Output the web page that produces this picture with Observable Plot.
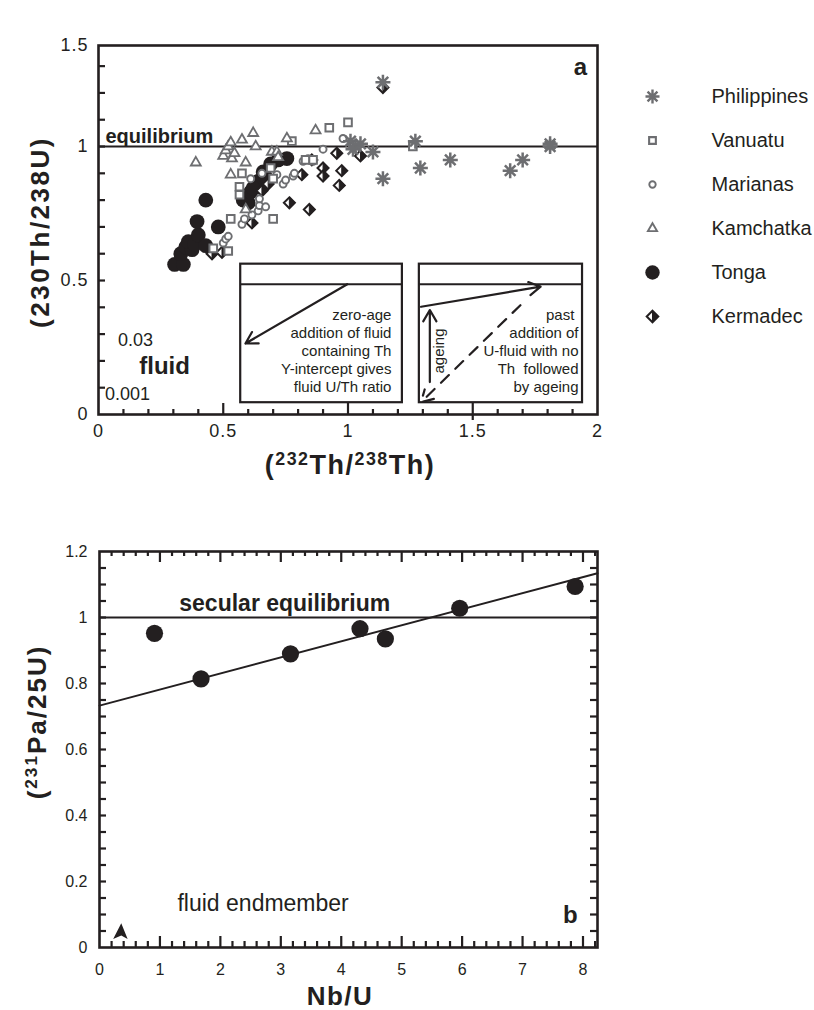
<!DOCTYPE html>
<html>
<head>
<meta charset="utf-8">
<script src="https://cdn.jsdelivr.net/npm/d3@7"></script>
<script src="https://cdn.jsdelivr.net/npm/@observablehq/plot@0.6"></script>
<style>
  html, body { margin: 0; padding: 0; background: #fff; }
  #wrap { position: relative; width: 814px; height: 1010px; overflow: hidden;
          font-family: "Liberation Sans", Arial, Helvetica, sans-serif; color: #231f20; }
  #wrap > svg { position: absolute; overflow: visible; }
  .title { position: absolute; font-weight: bold; white-space: nowrap; line-height: 1; }
  .title sup { font-size: 0.66em; vertical-align: 0.5em; line-height: 0; }
  .rot { transform: translate(-50%, -50%) rotate(-90deg); }
  .ctr { transform: translate(-50%, -50%); }
  #pa g[aria-label="x-axis tick label"] text,
  #pa g[aria-label="y-axis tick label"] text { letter-spacing: 1px; }
</style>
</head>
<body>
<div id="wrap"></div>
<script>
// ---------- Panel a data: (232Th/238Th) vs (230Th/238U) ----------
const philippines = [[1.01,1.02],[1.03,1.00],[1.02,0.99],[1.05,1.01],[1.10,0.98],[1.14,0.88],[1.14,1.24],
  [1.27,1.02],[1.29,0.92],[1.41,0.95],[1.65,0.91],[1.70,0.95],[1.81,1.00],[1.81,1.01]];
const vanuatu = [[0.46,0.62],[0.52,0.61],[0.53,0.73],[0.565,0.82],[0.565,0.85],[0.575,0.90],[0.69,0.92],
  [0.70,0.88],[0.70,0.73],[0.775,1.02],[0.83,0.95],[0.86,0.95],[0.925,1.07],[1.00,1.09],[1.26,1.00]];
const marianas = [[0.50,0.64],[0.51,0.655],[0.52,0.665],[0.575,0.71],[0.585,0.73],[0.615,0.745],[0.64,0.76],
  [0.645,0.78],[0.67,0.775],[0.645,0.805],[0.61,0.88],[0.655,0.90],[0.715,0.895],[0.74,0.86],[0.75,0.875],
  [0.78,0.89],[0.785,0.90],[0.82,0.945],[0.84,0.955],[0.86,0.945],[0.90,0.99],[0.98,1.03]];
const kamchatka = [[0.39,0.94],[0.50,0.965],[0.51,0.985],[0.52,1.00],[0.535,0.955],[0.545,0.975],[0.53,1.015],
  [0.53,0.895],[0.575,1.025],[0.59,0.94],[0.62,1.05],[0.63,1.00],[0.59,0.765],[0.695,0.98],[0.715,0.98],
  [0.72,0.96],[0.755,1.03],[0.87,1.06]];
const tonga = [[0.305,0.56],[0.34,0.56],[0.33,0.60],[0.35,0.625],[0.375,0.615],[0.36,0.645],[0.385,0.635],
  [0.40,0.67],[0.395,0.72],[0.43,0.63],[0.43,0.80],[0.48,0.70],[0.58,0.80],[0.60,0.79],[0.61,0.83],
  [0.64,0.87],[0.66,0.905],[0.69,0.935],[0.72,0.95],[0.755,0.955],[0.67,0.885],[0.62,0.845]];
const kermadec = [[0.455,0.60],[0.495,0.605],[0.615,0.715],[0.655,0.835],[0.68,0.86],[0.765,0.79],
  [0.845,0.765],[0.815,0.895],[0.855,0.95],[0.90,0.92],[0.90,0.89],[0.955,0.975],[0.975,0.91],
  [0.965,0.855],[1.05,0.965],[1.14,1.22]];
const seriesNames = ["Philippines", "Vanuatu", "Marianas", "Kamchatka", "Tonga", "Kermadec"];

const xTicksA = [0, 0.5, 1, 1.5, 2];
const xTickLabelsA = ["0", "0.5", "1", "1.5", "2"];
const yTicksA = [0, 0.5, 1, 1.377];
const yTickLabelsA = ["0", "0.5", "1", "1.5"];

// inset sketches (data coordinates of panel a)
const insetBoxes = [
  {x1: 0.57, x2: 1.218, y1: 0.044, y2: 0.561, line: 0.486},
  {x1: 1.286, x2: 1.94, y1: 0.044, y2: 0.561, line: 0.486}
];
const insetArrows = [
  {x1: 0.997, y1: 0.486, x2: 0.589, y2: 0.265},
  {x1: 1.293, y1: 0.402, x2: 1.772, y2: 0.477},
  {x1: 1.328, y1: 0.121, x2: 1.328, y2: 0.39}
];
const insetDashed = [{x1: 1.691, y1: 0.408, x2: 1.293, y2: 0.046}];
const insetNotes = [
  {x: 1.174, y: 0.239, text: "zero-age\naddition of fluid\ncontaining Th\nY-intercept gives\nfluid U/Th ratio"},
  {x: 1.924, y: 0.239, text: "past\u00a0\naddition of\nU-fluid with no\nTh\u00a0 followed\nby ageing"}
];
const fluidNotes = [
  {x: 0.148, y: 0.277, text: "0.03", bold: false},
  {x: 0.265, y: 0.18, text: "fluid", bold: true},
  {x: 0.116, y: 0.075, text: "0.001", bold: false}
];

// ---------- Panel b data: Nb/U vs (231Pa/235U) ----------
const nbU = [0.91, 1.68, 3.16, 4.31, 4.73, 5.96, 7.87];
const paU = [0.952, 0.814, 0.890, 0.966, 0.935, 1.028, 1.094];
const fitNbU = [0, 8.24];
const fitPaU = [0.733, 1.134];
const endmember = [{x: 0.36, y: 0.048}];
const xTicksB = [0, 1, 2, 3, 4, 5, 6, 7, 8];
const yTicksB = [0, 0.2, 0.4, 0.6, 0.8, 1, 1.2];
const yTickLabelsB = ["0", "0.2", "0.4", "0.6", "0.8", "1", "1.2"];

// ---------- styles ----------
const INK = "#231f20", GRAY = "#6d6e71";
const FONT = "'Liberation Sans', Arial, Helvetica, sans-serif";

// custom symbols
const asterisk = {draw(c, size) { const r = Math.sqrt(size / Math.PI), d = r * Math.SQRT1_2;
  c.moveTo(0, -r); c.lineTo(0, r); c.moveTo(-r, 0); c.lineTo(r, 0);
  c.moveTo(-d, -d); c.lineTo(d, d); c.moveTo(-d, d); c.lineTo(d, -d); }};
const diamond = {draw(c, size) { const r = Math.sqrt(size / Math.PI);
  c.moveTo(0, -r); c.lineTo(r, 0); c.lineTo(0, r); c.lineTo(-r, 0); c.closePath(); }};
const halfDiamond = {draw(c, size) { const r = Math.sqrt(size / Math.PI);
  c.moveTo(0, -r); c.lineTo(r, 0); c.lineTo(0, r); c.closePath(); }};
const arrowHead = {draw(c, size) { const r = Math.sqrt(size / Math.PI);
  c.moveTo(0, -r); c.lineTo(0.75 * r, 0.85 * r); c.lineTo(0, 0.45 * r); c.lineTo(-0.95 * r, 0.85 * r); c.closePath(); }};

const px = d => d[0], py = d => d[1];
const SM = {
  Tonga: d => [Plot.dot(d, {x: px, y: py, r: 7.4, fill: INK, stroke: "none"})],
  Kermadec: d => [
    Plot.dot(d, {x: px, y: py, symbol: diamond, r: 5.5, fill: "white", stroke: INK, strokeWidth: 2}),
    Plot.dot(d, {x: px, y: py, symbol: halfDiamond, r: 5.5, fill: INK, stroke: INK, strokeWidth: 1})],
  Marianas: d => [Plot.dot(d, {x: px, y: py, r: 3.5, fill: "white", stroke: GRAY, strokeWidth: 1.9})],
  Vanuatu: d => [Plot.dot(d, {x: px, y: py, symbol: "square", r: 4.3, fill: "white", stroke: GRAY, strokeWidth: 2})],
  Kamchatka: d => [Plot.dot(d, {x: px, y: py, symbol: "triangle", r: 3.7, fill: "white", stroke: GRAY, strokeWidth: 1.8})],
  Philippines: d => [Plot.dot(d, {x: px, y: py, symbol: asterisk, r: 7.5, fill: "none", stroke: GRAY, strokeWidth: 2.5})]
};

// inward ticks: rules whose lengths are converted from pixels to data units
const TICK = {stroke: INK, strokeWidth: 2.2};
function tickMarks(xDom, yDom, fw, fh) {
  const kx = (xDom[1] - xDom[0]) / fw, ky = (yDom[1] - yDom[0]) / fh;
  return {
    bottom: (v, len) => Plot.ruleX(v, {x: d => d, y1: yDom[0], y2: yDom[0] + len * ky, ...TICK}),
    top: (v, len) => Plot.ruleX(v, {x: d => d, y1: yDom[1] - len * ky, y2: yDom[1], ...TICK}),
    left: (v, len) => Plot.ruleY(v, {y: d => d, x1: xDom[0], x2: xDom[0] + len * kx, ...TICK}),
    right: (v, len) => Plot.ruleY(v, {y: d => d, x1: xDom[1] - len * kx, x2: xDom[1], ...TICK}),
    below: (v, len) => Plot.ruleX(v, {x: d => d, y1: yDom[0] - len * ky, y2: yDom[0], ...TICK})
  };
}

// ---------- Panel a ----------
const WA = 620, HA = 480, mLA = 98, mRA = 23, mTA = 45, mBA = 66;
const xDomA = [0, 2], yDomA = [0, 1.377];
const TA = tickMarks(xDomA, yDomA, WA - mLA - mRA, HA - mTA - mBA);
const xMinorA = d3.range(1, 20).filter(i => i % 5 !== 0).map(i => i / 10);
const xMajorA = [0.5, 1, 1.5];
const yMinorA = d3.range(1, 14).map(i => i / 10);

const plotA = Plot.plot({
  width: WA, height: HA, marginLeft: mLA, marginRight: mRA, marginTop: mTA, marginBottom: mBA,
  x: {domain: xDomA},
  y: {domain: yDomA},
  style: {fontFamily: FONT, color: INK, background: "transparent", overflow: "visible"},
  marks: [
    Plot.ruleY([1], {stroke: INK, strokeWidth: 2}),
    Plot.rect(insetBoxes, {x1: "x1", x2: "x2", y1: "y1", y2: "y2", fill: "white", stroke: INK, strokeWidth: 2.2}),
    Plot.ruleY(insetBoxes, {y: "line", x1: "x1", x2: "x2", stroke: INK, strokeWidth: 2.2}),
    Plot.arrow(insetArrows, {x1: "x1", y1: "y1", x2: "x2", y2: "y2", stroke: INK, strokeWidth: 2.2, headLength: 9}),
    Plot.arrow(insetDashed, {x1: "x1", y1: "y1", x2: "x2", y2: "y2", stroke: INK, strokeWidth: 2.2, headLength: 9, strokeDasharray: "11,9"}),
    Plot.text(insetNotes, {x: "x", y: "y", text: "text", textAnchor: "end", lineAnchor: "middle", lineHeight: 1.2, fontSize: 15, fill: INK}),
    Plot.text(["ageing"], {x: 1.367, y: 0.237, text: d => d, rotate: -90, fontSize: 15, fill: INK}),
    ...SM.Tonga(tonga),
    ...SM.Kermadec(kermadec),
    ...SM.Marianas(marianas),
    ...SM.Vanuatu(vanuatu),
    ...SM.Kamchatka(kamchatka),
    ...SM.Philippines(philippines),
    Plot.text(["equilibrium"], {x: 0.028, y: 1.015, text: d => d, textAnchor: "start", lineAnchor: "bottom", fontSize: 20, fontWeight: "bold", fill: INK}),
    Plot.text(fluidNotes.filter(d => !d.bold), {x: "x", y: "y", text: "text", fontSize: 18, fill: INK}),
    Plot.text(fluidNotes.filter(d => d.bold), {x: "x", y: "y", text: "text", fontSize: 24, fontWeight: "bold", fill: INK}),
    Plot.text(["a"], {x: 1.932, y: 1.296, text: d => d, fontSize: 24, fontWeight: "bold", fill: INK}),
    TA.bottom(xMinorA, 5),
    TA.bottom(xMajorA, 11),
    TA.below([1.5], 6),
    TA.left(yMinorA, 7),
    Plot.frame({stroke: INK, strokeWidth: 2.6}),
    Plot.axisX({ticks: xTicksA, tickSize: 0, tickPadding: 10, fontSize: 18, label: null,
      tickFormat: d => xTickLabelsA[xTicksA.indexOf(d)]}),
    Plot.axisY({ticks: yTicksA, tickSize: 0, tickPadding: 10, fontSize: 18, label: null,
      tickFormat: d => yTickLabelsA[yTicksA.indexOf(d)]})
  ]
});

// ---------- Legend ----------
const legendSym = {
  Philippines: {symbol: asterisk, r: 7, fill: "none", stroke: GRAY, strokeWidth: 2.4},
  Vanuatu: {symbol: "square", r: 3.8, fill: "white", stroke: GRAY, strokeWidth: 2.1},
  Marianas: {r: 3.2, fill: "white", stroke: GRAY, strokeWidth: 1.9},
  Kamchatka: {symbol: "triangle", r: 3.4, fill: "white", stroke: GRAY, strokeWidth: 1.9},
  Tonga: {r: 7.2, fill: INK, stroke: "none"}
};
const legend = Plot.plot({
  width: 194, height: 270, margin: 0,
  y: {type: "point", domain: seriesNames, range: [25, 247], padding: 0, axis: null},
  style: {fontFamily: FONT, color: INK, background: "transparent", overflow: "visible"},
  marks: [
    ...Object.entries(legendSym).map(([name, o]) =>
      Plot.dot([name], {y: d => d, frameAnchor: "left", dx: 32, ...o})),
    Plot.dot(["Kermadec"], {y: d => d, frameAnchor: "left", dx: 32, symbol: diamond, r: 5.8, fill: "white", stroke: INK, strokeWidth: 2}),
    Plot.dot(["Kermadec"], {y: d => d, frameAnchor: "left", dx: 32, symbol: halfDiamond, r: 5.8, fill: INK, stroke: INK, strokeWidth: 1}),
    Plot.text(seriesNames, {y: d => d, text: d => d, frameAnchor: "left", dx: 91, textAnchor: "start", fontSize: 20, fill: INK})
  ]
});

// ---------- Panel b ----------
const WB = 620, HB = 510, mLB = 99, mRB = 23, mTB = 51, mBB = 63;
const xDomB = [0, 8.24], yDomB = [0, 1.2];
const TB = tickMarks(xDomB, yDomB, WB - mLB - mRB, HB - mTB - mBB);
const xMinorB = d3.range(1, 42).filter(i => i % 5 !== 0).map(i => i / 5);
const xMajorB = xTicksB.slice(1);
const yMinorB = d3.range(1, 24).map(i => i / 20);
const ptsB = nbU.map((x, i) => [x, paU[i]]);
const fitB = fitNbU.map((x, i) => [x, fitPaU[i]]);

const plotB = Plot.plot({
  width: WB, height: HB, marginLeft: mLB, marginRight: mRB, marginTop: mTB, marginBottom: mBB,
  x: {domain: xDomB},
  y: {domain: yDomB},
  style: {fontFamily: FONT, color: INK, background: "transparent", overflow: "visible"},
  marks: [
    Plot.ruleY([1], {stroke: INK, strokeWidth: 1.8}),
    Plot.line(fitB, {x: px, y: py, stroke: INK, strokeWidth: 2}),
    Plot.dot(ptsB, {x: px, y: py, r: 8.6, fill: INK, stroke: "none"}),
    Plot.dot(endmember, {x: "x", y: "y", symbol: arrowHead, r: 8.5, fill: INK, stroke: "none"}),
    Plot.text(["secular equilibrium"], {x: 1.32, y: 1.021, text: d => d, textAnchor: "start", lineAnchor: "bottom", fontSize: 23, fontWeight: "bold", fill: INK}),
    Plot.text(["fluid endmember"], {x: 1.29, y: 0.112, text: d => d, textAnchor: "start", lineAnchor: "bottom", fontSize: 23, fill: INK}),
    Plot.text(["b"], {x: 7.79, y: 0.074, text: d => d, lineAnchor: "bottom", fontSize: 24, fontWeight: "bold", fill: INK}),
    TB.bottom(xMinorB, 6),
    TB.bottom(xMajorB, 11),
    TB.top(xMinorB, 5),
    TB.top(xMajorB, 11),
    TB.left(yMinorB, 7),
    TB.right(yMinorB, 7),
    Plot.frame({stroke: INK, strokeWidth: 2.6}),
    Plot.axisX({ticks: xTicksB, tickSize: 0, tickPadding: 16, fontSize: 16, label: null, tickFormat: d => String(d)}),
    Plot.axisY({ticks: yTicksB, tickSize: 0, tickPadding: 12, fontSize: 16, label: null,
      tickFormat: d => yTickLabelsB[yTicksB.indexOf(d)]})
  ]
});

// ---------- assemble ----------
const wrap = document.getElementById("wrap");
function place(el, left, top, id) {
  el.style.position = "absolute"; el.style.left = left + "px"; el.style.top = top + "px";
  if (id) el.id = id; wrap.appendChild(el);
}
place(plotA, 0, 0, "pa");
place(legend, 620, 70, "lg");
place(plotB, 0, 500, "pb");

const titles = [
  {html: "(<sup>232</sup>Th/<sup>238</sup>Th)", left: 350, top: 465, size: 27, ls: 1.5, cls: "ctr"},
  {html: "(230Th/238U)", left: 40, top: 232, size: 26, ls: 2.5, cls: "rot"},
  {html: "(<sup>231</sup>Pa/25U)", left: 37, top: 722, size: 26, ls: 2, cls: "rot"},
  {html: "Nb/U", left: 340, top: 996, size: 26, ls: 1.5, cls: "ctr"}
];
for (const t of titles) {
  const d = document.createElement("div");
  d.className = "title " + t.cls;
  d.innerHTML = t.html;
  d.style.left = t.left + "px"; d.style.top = t.top + "px";
  d.style.fontSize = t.size + "px"; d.style.letterSpacing = t.ls + "px";
  wrap.appendChild(d);
}
</script>
</body>
</html>
